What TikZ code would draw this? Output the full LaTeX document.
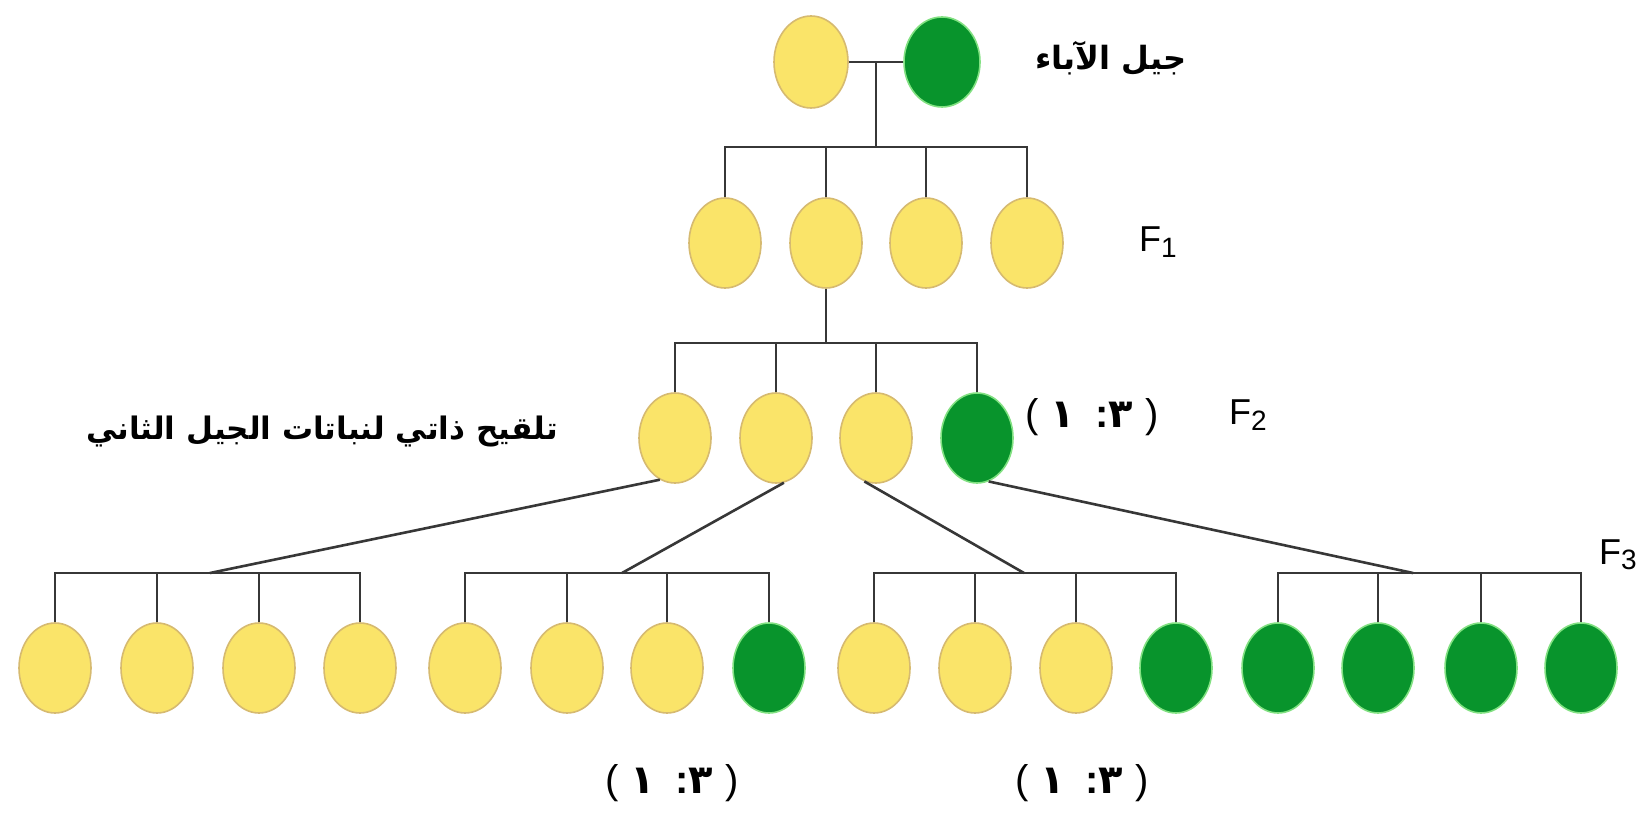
\documentclass[tikz,border=0pt]{standalone}
\usepackage{fontspec}
\setmainfont{Liberation Sans}
\newfontfamily\arabicfont[Script=Arabic]{DejaVu Sans}
\TeXXeTstate=1
\usetikzlibrary{shapes.geometric}

\definecolor{peayellow}{RGB}{250,228,105}
\definecolor{peayellowline}{RGB}{214,186,112}
\definecolor{peagreen}{RGB}{8,148,44}
\definecolor{peagreenline}{RGB}{130,225,130}
\definecolor{treeline}{RGB}{55,55,55}

\newcommand{\gen}[1]{F\raisebox{-0.15em}{\fontsize{14}{14}\selectfont #1}}
% ratio 3:1, set piece by piece in the order it is printed
\newcommand{\ratiotext}{(\hspace{0.3em}{\arabicfont\bfseries ١}\hspace{0.5em}{\bfseries :}{\arabicfont\bfseries ٣}\hspace{0.3em})}

\begin{document}
\begin{tikzpicture}[x=0.5pt, y=-0.5pt,
    pea/.style={ellipse, minimum width=36pt, minimum height=45pt, inner sep=0pt, line width=0.8pt},
    ypea/.style={pea, draw=peayellowline, fill=peayellow},
    gpea/.style={pea, draw=peagreenline, fill=peagreen},
    tree/.style={draw=treeline, line width=1.3pt},
    genlabel/.style={font=\fontsize{18}{20}\selectfont},
    arlabel/.style={font=\arabicfont\bfseries\fontsize{16}{20}\selectfont},
    ratiolabel/.style={font=\fontsize{20}{22}\selectfont}]
    \useasboundingbox[fill=white] (0,0) rectangle (1647,817);

    % parents
    \node[ypea, minimum width=37pt, minimum height=46pt] (p1) at (811,62) {};
    \node[gpea, minimum width=38pt, minimum height=45pt] (p2) at (942,62) {};
    \node[arlabel] (parentlabel) at (1111,58) {\beginR جيل الآباء\endR};

    % F1
    \foreach \x [count=\i] in {725,826,926,1027}
        \node[ypea] (f1-\i) at (\x,243) {};
    \node[genlabel] (f1label) at (1158,242) {\gen{1}};

    % F2
    \foreach \x/\kind [count=\i] in {675/ypea,776/ypea,876/ypea,977/gpea}
        \node[\kind] (f2-\i) at (\x,438) {};
    \node[genlabel] (f2label) at (1248,415) {\gen{2}};
    \node[ratiolabel] (f2ratio) at (1092,417) {\ratiotext};
    \node[arlabel, font=\arabicfont\bfseries\fontsize{15.5}{20}\selectfont] (selflabel) at (322,432) {\beginR تلقيح ذاتي لنباتات الجيل الثاني\endR};

    % F3
    \foreach \x/\kind [count=\i] in {55/ypea,157/ypea,259/ypea,360/ypea,
                                     465/ypea,567/ypea,667/ypea,769/gpea,
                                     874/ypea,975/ypea,1076/ypea,1176/gpea,
                                     1278/gpea,1378/gpea,1481/gpea,1581/gpea}
        \node[\kind] (f3-\i) at (\x,668) {};
    \node[genlabel] (f3label) at (1618,555) {\gen{3}};
    \node[ratiolabel] (ratio1) at (672,783) {\ratiotext};
    \node[ratiolabel] (ratio2) at (1082,783) {\ratiotext};

    % bars
    \coordinate (b1) at (0,147);
    \coordinate (b2) at (0,343);
    \coordinate (b3) at (0,573);
    \coordinate (j1) at (210,573);
    \coordinate (j2) at (622,573);
    \coordinate (j3) at (1024,573);
    \coordinate (j4) at (1413,573);

    % parents to F1
    \draw[tree] (p1) -- (p2);
    \path (p1.east) -- (p2.west) coordinate[midway] (pm);
    \draw[tree] (pm) -- (pm |- b1);
    \draw[tree] (f1-1.north) -- (f1-1 |- b1) -- (f1-4 |- b1) -- (f1-4.north);
    \foreach \i in {2,3}
        \draw[tree] (f1-\i.north) -- (f1-\i |- b1);

    % F1 to F2
    \draw[tree] (f1-2.south) -- (f1-2 |- b2);
    \draw[tree] (f2-1.north) -- (f2-1 |- b2) -- (f2-4 |- b2) -- (f2-4.north);
    \foreach \i in {2,3}
        \draw[tree] (f2-\i.north) -- (f2-\i |- b2);

    % F2 to F3
    \foreach \a/\b in {1/4,5/8,9/12,13/16}
        \draw[tree] (f3-\a.north) -- (f3-\a |- b3) -- (f3-\b |- b3) -- (f3-\b.north);
    \foreach \i in {2,3,6,7,10,11,14,15}
        \draw[tree] (f3-\i.north) -- (f3-\i |- b3);
    \draw[tree] (f2-1.-110) -- (j1);
    \draw[tree] (f2-2.-80) -- (j2);
    \draw[tree] (f2-3.-105) -- (j3);
    \draw[tree] (f2-4.-75) -- (j4);
\end{tikzpicture}
\end{document}
